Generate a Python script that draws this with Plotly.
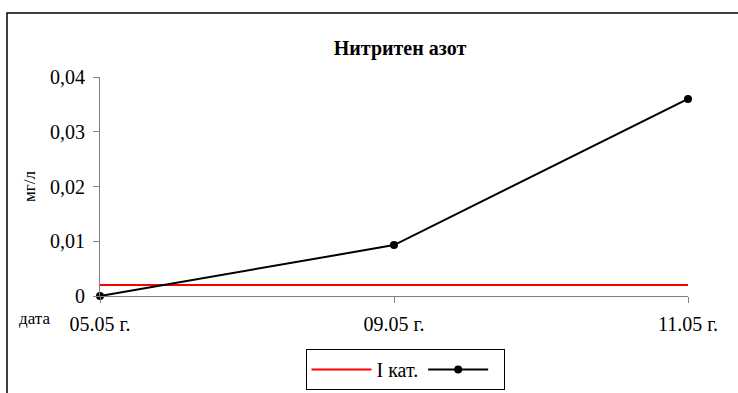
import plotly.graph_objects as go

dates = ["05.05 г.", "09.05 г.", "11.05 г."]
nitrite = [0.0, 0.0093, 0.036]
limit_cat1 = [0.002, 0.002, 0.002]
series_limit_name = "I кат."
series_value_name = " "
title_text = "Нитритен азот"
y_title = "мг/л"
x_title = "дата"

FONT = "Liberation Serif"

fig = go.Figure()
fig.add_trace(go.Scatter(x=dates, y=limit_cat1, mode="lines", name=series_limit_name,
                         line=dict(color="#ff0000", width=2), cliponaxis=False))
fig.add_trace(go.Scatter(x=dates, y=nitrite, mode="lines+markers", name=series_value_name,
                         line=dict(color="#000000", width=2),
                         marker=dict(color="#000000", size=8), cliponaxis=False))

L, R, T, B = 100, 50, 77, 97
W, H = 738, 393
pw, ph = W - L - R, H - T - B

def px(xp):
    return (xp - L) / pw

def py(yp):
    return (H - B - yp) / ph

fig.update_layout(
    width=W, height=H,
    margin=dict(l=L, r=R, t=T, b=B, autoexpand=False),
    paper_bgcolor="white", plot_bgcolor="white",
    separators=", ",
    font=dict(family=FONT, size=16, color="black"),
    title=dict(text="<b>" + title_text + "</b>", x=px(400), xanchor="center",
               xref="paper", y=1 - 48 / H, yanchor="middle",
               font=dict(family=FONT, size=20, color="black")),
    showlegend=True,
    legend=dict(orientation="h", x=px(405), xanchor="center", y=py(349), yanchor="top",
                bordercolor="black", borderwidth=1, bgcolor="white",
                font=dict(family=FONT, size=20), tracegroupgap=0, itemwidth=60),
    xaxis=dict(type="category", range=[0, 2], showline=True, linecolor="#808080", linewidth=1,
               ticks="outside", ticklen=6, tickcolor="#808080", showgrid=False, zeroline=False,
               tickfont=dict(family=FONT, size=20), ticklabelstandoff=4, fixedrange=True),
    yaxis=dict(range=[0, 0.04], dtick=0.01, showline=True, linecolor="#808080", linewidth=1,
               ticks="outside", ticklen=6, tickcolor="#808080", showgrid=False, zeroline=False,
               tickfont=dict(family=FONT, size=20), ticklabelstandoff=4, fixedrange=True,
               title=dict(text=y_title, font=dict(family=FONT, size=17), standoff=10)),
)

fig.add_annotation(text=x_title, xref="paper", yref="paper", x=px(34), y=py(318),
                   showarrow=False, font=dict(family=FONT, size=17), xanchor="center", yanchor="middle")

fig.add_shape(type="rect", xref="paper", yref="paper",
              x0=px(7), x1=px(742), y0=py(397), y1=py(13),
              line=dict(color="black", width=1.5), fillcolor="rgba(0,0,0,0)", layer="above")

fig.write_html("out.html", config={"displayModeBar": False},
               post_script="document.body.style.margin='0';document.body.style.overflow='hidden';")
